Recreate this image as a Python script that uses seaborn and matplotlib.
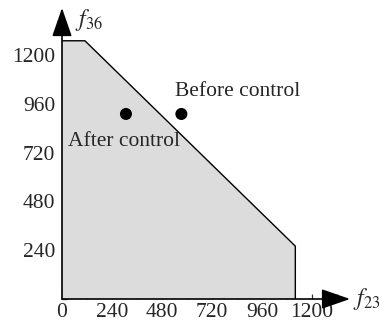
import matplotlib
matplotlib.use("Agg")
import matplotlib.pyplot as plt
import seaborn as sns
import pandas as pd
from matplotlib.ticker import MultipleLocator

# feasible region boundary (f23, f36)
region_f23 = [0, 0, 110, 1120, 1120]
region_f36 = [0, 1270, 1270, 260, 0]

point_names = ["After control", "Before control"]
point_f23 = [307, 573]
point_f36 = [910, 910]

x_ticks = [0, 240, 480, 720, 960, 1200]
y_ticks = [240, 480, 720, 960, 1200]

sns.set_theme(style="ticks")
plt.rcParams.update({
    "font.family": ["Liberation Serif", "DejaVu Serif"],
    "mathtext.fontset": "stix",
    "font.size": 15.5,
})

W, H = 380, 327
fig = plt.figure(figsize=(W / 100, H / 100), dpi=100)
x0, y0, x1, y1 = 62, 299, 350, 8
ax = fig.add_axes([x0 / W, 1 - y0 / H, (x1 - x0) / W, (y0 - y1) / H])
ax.set_xlim(0, (x1 - x0) / 0.20833)
ax.set_ylim(0, (y0 - y1) / 0.20333)

ax.fill(region_f23, region_f36, facecolor="#dcdcdc", edgecolor="none", zorder=1)
ax.plot(region_f23[1:], region_f36[1:], color="black", lw=1.0, zorder=2)

pts = pd.DataFrame({"f23": point_f23, "f36": point_f36, "name": point_names})
sns.scatterplot(data=pts, x="f23", y="f36", color="black", s=75,
                edgecolor="none", ax=ax, zorder=3, legend=False)
fig.text(68 / W, 1 - 141 / H, "After control", fontsize=15.5, ha="left", va="center")
fig.text(175 / W, 1 - 91 / H, "Before control", fontsize=15.5, ha="left", va="center")

for s in ["top", "right", "left", "bottom"]:
    ax.spines[s].set_visible(False)
# axis arrows
arrow = dict(arrowstyle="-|>,head_length=1.15,head_width=0.4",
             color="black", lw=1.2, shrinkA=0, shrinkB=0)
ax.annotate("", xy=(1, 0), xytext=(0, 0), xycoords="axes fraction",
            arrowprops=arrow, zorder=5)
ax.annotate("", xy=(0, 1), xytext=(0, 0), xycoords="axes fraction",
            arrowprops=arrow, zorder=5)

ax.set_xticks(x_ticks)
ax.set_yticks(y_ticks)
ax.xaxis.set_minor_locator(MultipleLocator(120))
ax.yaxis.set_minor_locator(MultipleLocator(120))
ax.tick_params(which="both", direction="in", length=3.5, width=0.9, color="#333333")
ax.tick_params(axis="x", which="major", pad=3)
ax.tick_params(axis="y", which="major", pad=5)
ax.tick_params(labelsize=15.5)
ax.set_xlabel("")
ax.set_ylabel("")

fig.text(75 / W, 1 - 20 / H, r"$f_{36}$", fontsize=17, ha="left", va="center")
fig.text(353 / W, 1 - 299 / H, r"$f_{23}$", fontsize=17, ha="left", va="center")

fig.savefig("out.png", dpi=100)
